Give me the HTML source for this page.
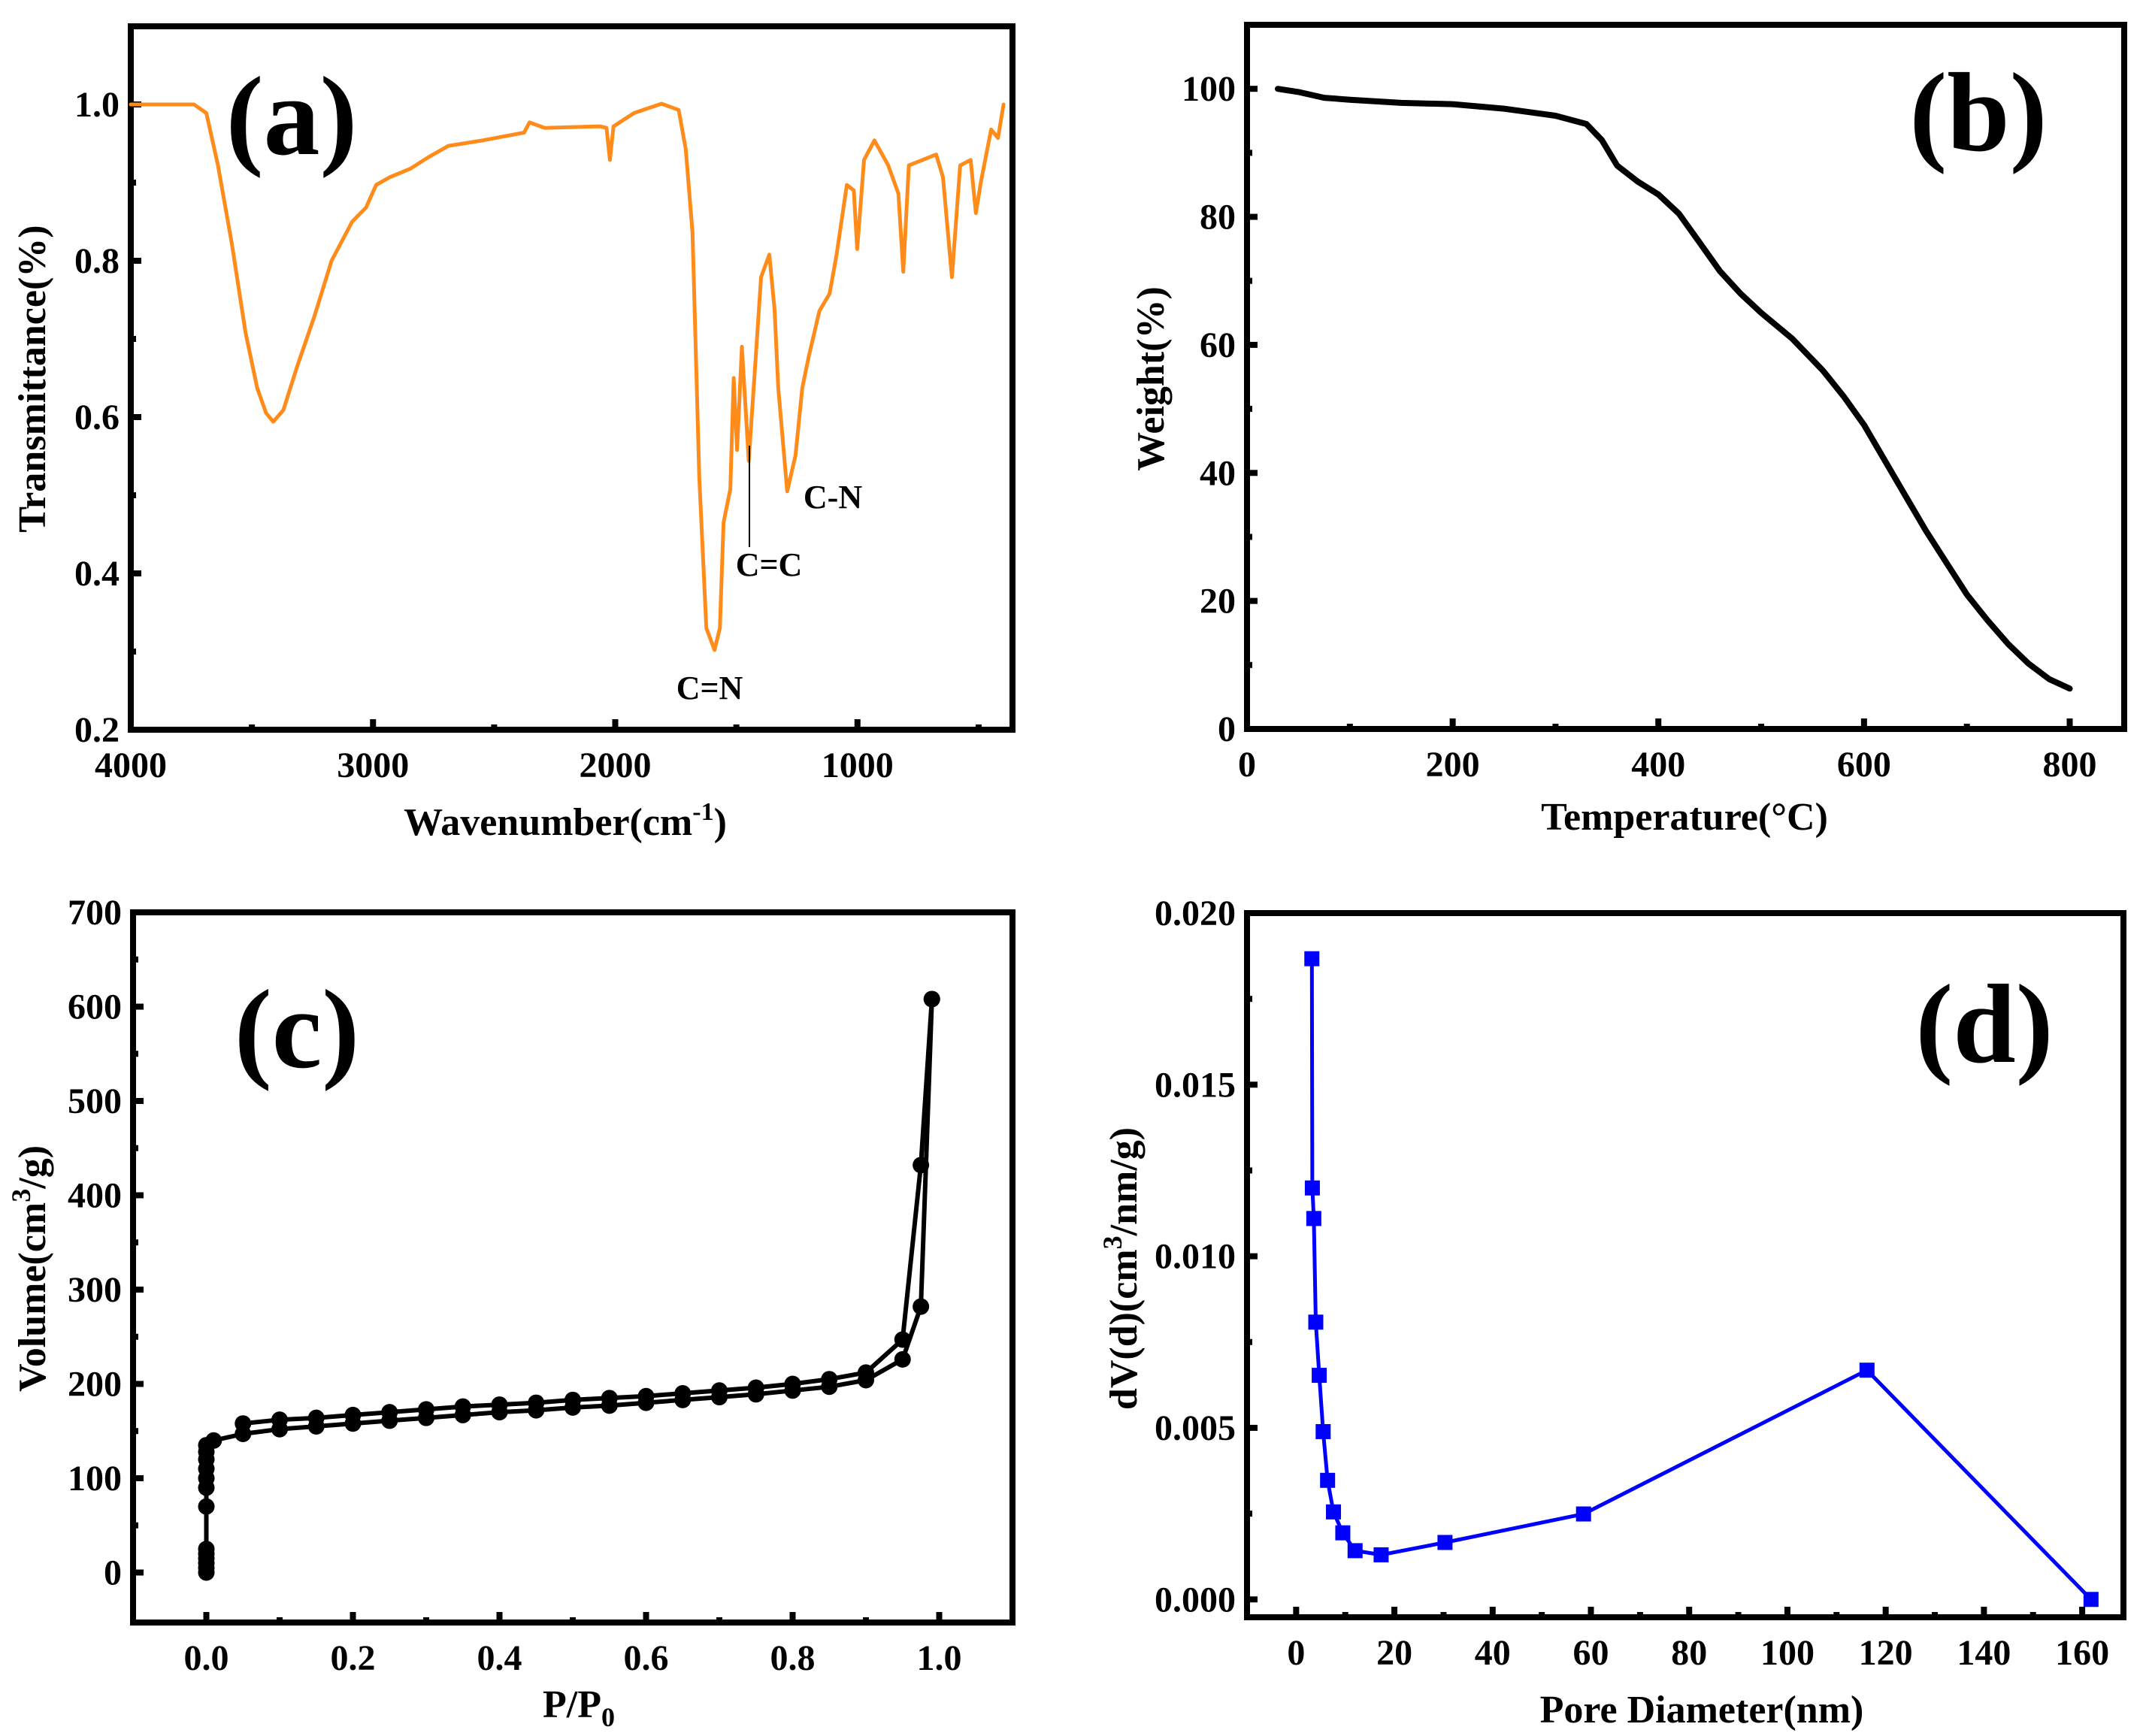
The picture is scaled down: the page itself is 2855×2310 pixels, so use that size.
<!DOCTYPE html>
<html><head><meta charset="utf-8"><style>
html,body{margin:0;padding:0;background:#fff;}
svg{display:block;font-family:"Liberation Serif",serif;font-weight:bold;}
</style></head><body>
<svg id="fig" width="2855" height="2310" viewBox="0 0 2855 2310" xmlns="http://www.w3.org/2000/svg"></svg>
<script>
// ---- Panel (a) FTIR data ----
const ftirWave = [4000,3739,3688,3640,3583,3526,3478,3441,3412,3370,3313,3242,3171,3086,3029,2987,2930,2845,2774,2689,2547,2376,2354,2291,2064,2036,2022,2007,1922,1809,1738,1709,1681,1653,1624,1590,1568,1553,1525,1511,1497,1477,1449,1421,1398,1364,1342,1327,1290,1256,1228,1200,1157,1115,1086,1044,1015,1001,973,930,873,831,811,788,731,675,647,610,576,533,511,491,448,420,397];
const ftirTrans = [1.0,1.0,0.989,0.922,0.822,0.708,0.637,0.605,0.594,0.609,0.665,0.729,0.80,0.85,0.868,0.897,0.907,0.918,0.932,0.947,0.954,0.964,0.977,0.970,0.972,0.970,0.929,0.972,0.989,1.001,0.993,0.943,0.836,0.523,0.330,0.302,0.330,0.465,0.508,0.650,0.558,0.69,0.544,0.672,0.779,0.808,0.737,0.637,0.505,0.551,0.637,0.679,0.736,0.758,0.808,0.897,0.890,0.815,0.929,0.954,0.922,0.886,0.786,0.922,0.929,0.936,0.907,0.779,0.922,0.929,0.861,0.90,0.968,0.957,1.0];
const aXTicks = [4000,3000,2000,1000];
const aYTicks = [0.2,0.4,0.6,0.8,1.0];
// ---- Panel (b) TGA data ----
const tgaTemp = [30,50,75,100,150,200,250,300,330,345,360,380,400,420,440,460,480,500,530,560,580,600,620,640,660,680,700,720,740,760,780,800];
const tgaWeight = [100,99.5,98.6,98.3,97.8,97.6,96.9,95.8,94.5,92,88,85.5,83.5,80.5,76,71.5,68,65,61,56,52,47.5,42,36.5,31,26,21,17,13.3,10.2,7.8,6.3];
const bXTicks = [0,200,400,600,800];
const bYTicks = [0,20,40,60,80,100];
// ---- Panel (c) isotherm ----
const adsP = [0,0,0,0,0,0,0,0,0,0,0,0,0,0.01,0.05,0.1,0.15,0.2,0.25,0.3,0.35,0.4,0.45,0.5,0.55,0.6,0.65,0.7,0.75,0.8,0.85,0.9,0.95,0.975,0.99];
const adsV = [0,5,10,15,20,25,70,90,100,110,120,128,135,140,147,152,155,158,161,164,167,170,172,175,177,180,183,186,189,193,197,204,226,282,608];
const desP = [0.99,0.975,0.95,0.9,0.85,0.8,0.75,0.7,0.65,0.6,0.55,0.5,0.45,0.4,0.35,0.3,0.25,0.2,0.15,0.1,0.05];
const desV = [608,432,247,212,205,200,196,193,190,187,185,183,180,178,176,173,170,167,164,162,158];
const cXTicks = [0.0,0.2,0.4,0.6,0.8,1.0];
const cYTicks = [0,100,200,300,400,500,600,700];
// ---- Panel (d) pore size ----
const poreD = [3.2,3.3,3.6,4.0,4.7,5.5,6.4,7.6,9.5,12,17.3,30.3,58.5,116.2,161.8];
const poreDV = [0.01867,0.01199,0.0111,0.00808,0.00653,0.00489,0.00347,0.00255,0.00194,0.00142,0.0013,0.00166,0.00249,0.00668,0.0];
const dXTicks = [0,20,40,60,80,100,120,140,160];
const dYTicks = [0.000,0.005,0.010,0.015,0.020];

const NS="http://www.w3.org/2000/svg";
const svg=document.getElementById('fig');
function mk(tag,attrs,parent){const e=document.createElementNS(NS,tag);for(const k in attrs)e.setAttribute(k,attrs[k]);(parent||svg).appendChild(e);return e;}
function lin(d0,d1,r0,r1){return v=>r0+(v-d0)*(r1-r0)/(d1-d0);}

function panel(p){
  const g=mk('g',{});
  
  
  const sx=lin(p.xd[0],p.xd[1],p.L,p.R), sy=lin(p.yd[0],p.yd[1],p.B,p.T);
  // ticks
  const tg=mk('g',{stroke:'#000','stroke-width':8},g);
  
  
  p.xMinor.forEach(v=>{const x=sx(v);mk('line',{x1:x,x2:x,y1:p.B,y2:p.B-(p.xTicks.includes(v)?14:7)},tg);});
  p.yMinor.forEach(v=>{const y=sy(v);mk('line',{x1:p.L,x2:p.L+(p.yTicks.some(t=>Math.abs(t-v)<1e-9)?14:7),y1:y,y2:y},tg);});
  p.xTicks.forEach((v,i)=>{const t=mk('text',{x:sx(v),y:p.B+63,'text-anchor':'middle','font-size':48},g);t.textContent=p.xFmt(v);
    
    });
  p.yTicks.forEach(v=>{const t=mk('text',{x:p.L-15,y:sy(v)+16,'text-anchor':'end','font-size':48},g);t.textContent=p.yFmt(v);
    
    });
  // frame
  const fr=mk('rect',{x:p.L,y:p.T,width:p.R-p.L,height:p.B-p.T,fill:'none',stroke:'#000','stroke-width':8},g);
  
  
  // series
  p.series.forEach(s=>{
    const pts=s.x.map((v,i)=>sx(v).toFixed(1)+','+sy(s.y[i]).toFixed(1)).join(' ');
    const pl=mk('polyline',{points:pts,fill:'none',stroke:s.color,'stroke-width':s.w,'stroke-linejoin':'round','stroke-linecap':'round'},g);
    
    
    if(s.marker==='circle'){s.x.forEach((v,i)=>{const c=mk('circle',{cx:sx(v),cy:sy(s.y[i]),r:11,fill:s.color},g);
      
      });}
    if(s.marker==='square'){s.x.forEach((v,i)=>{const r=mk('rect',{x:sx(v)-10,y:sy(s.y[i])-10,width:20,height:20,fill:s.color},g);
      
      });}
  });
  // panel label
  const pl=mk('text',{x:p.lab[0],y:p.lab[1],'text-anchor':'middle','font-size':150},g);pl.textContent='('+p.id+')';
  
  
  // axis titles
  const xt=mk('text',{x:p.xt[0],y:p.xt[1],'text-anchor':'middle','font-size':52},g);xt.innerHTML=p.xTitle;
  
  
  const yt=mk('text',{x:0,y:0,'text-anchor':'middle','font-size':52,transform:`translate(${p.yt[0]},${p.yt[1]}) rotate(-90)`},g);yt.innerHTML=p.yTitle;
  
  
  return {g,sx,sy};
}
function range(a,b,s){const r=[];for(let v=a;v<=b+1e-9;v+=s)r.push(+v.toFixed(6));return r;}

const A=panel({id:'a',L:174,R:1347,T:35,B:971,xd:[4000,360],yd:[0.2,1.1],
  xTicks:aXTicks,yTicks:aYTicks,xMinor:range(500,4000,500),yMinor:range(0.2,1.0,0.1),
  xFmt:v=>String(v),yFmt:v=>v.toFixed(1),
  series:[{x:ftirWave,y:ftirTrans,color:'#FF8C1A',w:5,name:'ftir'}],
  lab:[388,205],xt:[752,1111],yt:[60,504],
  xTitle:'Wavenumber(cm<tspan dy="-20" font-size="34">-1</tspan><tspan dy="20">)</tspan>',yTitle:'Transmittance(%)'});
[['C=N',944,930],['C=C',1023,766],['C-N',1108,676]].forEach(a=>{const t=mk('text',{x:a[1],y:a[2],'text-anchor':'middle','font-size':44},A.g);t.textContent=a[0];
  
  });
const ann=mk('line',{x1:997,x2:997,y1:593,y2:728,stroke:'#000','stroke-width':2},A.g);



panel({id:'b',L:1659,R:2826,T:33,B:970,xd:[0,853],yd:[0,110],
  xTicks:bXTicks,yTicks:bYTicks,xMinor:range(0,800,100),yMinor:range(0,100,10),
  xFmt:v=>String(v),yFmt:v=>String(v),
  series:[{x:tgaTemp,y:tgaWeight,color:'#000',w:8,name:'tga'}],
  lab:[2632,200],xt:[2241,1104],yt:[1548,504],
  xTitle:'Temperature(°C)',yTitle:'Weight(%)'});

panel({id:'c',L:177,R:1347,T:1214,B:2159,xd:[-0.1,1.1],yd:[-53,700],
  xTicks:cXTicks,yTicks:cYTicks,xMinor:range(0,1.0,0.1),yMinor:range(0,700,50),
  xFmt:v=>v.toFixed(1),yFmt:v=>String(v),
  series:[{x:adsP,y:adsV,color:'#000',w:6,name:'adsorption',marker:'circle'},{x:desP,y:desV,color:'#000',w:6,name:'desorption',marker:'circle'}],
  lab:[395,1420],xt:[770,2285],yt:[60,1688],
  xTitle:'P/P<tspan dy="12" font-size="36">0</tspan>',yTitle:'Volume(cm<tspan dy="-20" font-size="36">3</tspan><tspan dy="20">/g)</tspan>'});

panel({id:'d',L:1659,R:2825,T:1215,B:2152,xd:[-10,168.4],yd:[-0.00052,0.02],
  xTicks:dXTicks,yTicks:dYTicks,xMinor:range(0,160,10),yMinor:range(0,0.02,0.0025),
  xFmt:v=>String(v),yFmt:v=>v.toFixed(3),
  series:[{x:poreD,y:poreDV,color:'#0000FF',w:5,name:'pore-distribution',marker:'square'}],
  lab:[2640,1413],xt:[2264,2292],yt:[1512,1688],
  xTitle:'Pore Diameter(nm)',yTitle:'dV(d)(cm<tspan dy="-20" font-size="36">3</tspan><tspan dy="20">/nm/g)</tspan>'});
</script>
</body></html>
